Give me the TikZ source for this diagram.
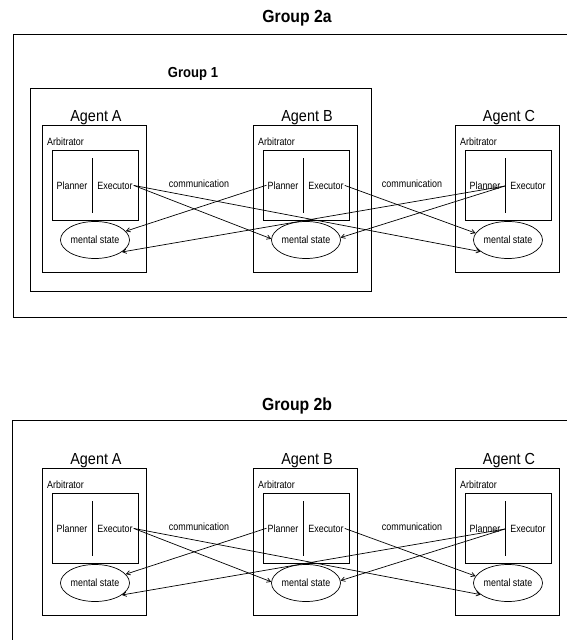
\documentclass[tikz,border=0pt]{standalone}
\usepackage{fontspec}
\setmainfont{Liberation Sans}
\newfontfamily\labelfont[FakeStretch=0.9]{Liberation Sans}
\newfontfamily\smallfont[FakeStretch=0.85]{Liberation Sans}
\usepackage{tikz}
\usetikzlibrary{arrows,shapes.geometric}

\begin{document}
\begin{tikzpicture}[x=1pt,y=-1pt,>=angle 60,%,line cap=round]
    groupbox/.style={draw,line width=1pt},
    agentbox/.style={draw,line width=0.9pt},
    arbbox/.style={draw,line width=0.7pt},
    grouplabel/.style={anchor=base,font=\labelfont\bfseries\fontsize{17.5}{20}\selectfont},
    agentlabel/.style={anchor=base,font=\labelfont\fontsize{16}{18}\selectfont},
    smalltext/.style={anchor=base,inner sep=1pt,font=\smallfont\fontsize{10.5}{12}\selectfont},
    mental/.style={draw,ellipse,line width=0.7pt,minimum width=69pt,minimum height=37pt,inner sep=0pt,font=\smallfont\fontsize{10.5}{12}\selectfont},
    link/.style={->,line width=0.7pt}]

                                \useasboundingbox (0,0) rectangle (567,640);
                                \clip (0,0) rectangle (567,640);

                                \node[grouplabel] (g2a) at (297,22) {Group 2a};
                                \draw[groupbox] (13,34) rectangle (580,317);
                                \node[grouplabel,font=\labelfont\bfseries\fontsize{14.5}{17}\selectfont] (g1) at (193,77) {Group 1};
                                \draw[groupbox] (30,88) rectangle (371,291);
                                \node[grouplabel] (g2b) at (297,410) {Group 2b};
                                \draw[groupbox] (12,420) rectangle (580,660);

                                \foreach \r/\dy in {t/0,b/343}{
                                    \foreach \a/\x in {A/42,B/253,C/455}{
                                        \draw[agentbox] (\x,125+\dy) rectangle (\x+104,272+\dy);
                                        \node[agentlabel] (\r\a-name) at (\x+54,121+\dy) {Agent \a};
                                        \node[smalltext,anchor=base west] (\r\a-arb) at (\x+4,145+\dy) {Arbitrator};
                                        \draw[arbbox] (\x+10,150+\dy) rectangle (\x+96,220+\dy);
                                        \draw (\x+50,158+\dy) -- (\x+50,213+\dy);
                                        \node[smalltext] (\r\a-plan) at (\x+30,189+\dy) {Planner};
                                        \node[smalltext] (\r\a-exec) at (\x+73,189+\dy) {Executor};
                                        \coordinate (\r\a-port) at (\x+50,186+\dy);
                                        \node[mental] (\r\a-mind) at (\x+53,240+\dy) {mental state};
                                    }
                                    \node[smalltext] (\r comm1) at (199,187+\dy) {communication};
                                    \node[smalltext] (\r comm2) at (412,187+\dy) {communication};

                                    \draw[link] (\r A-exec.east) -- (\r B-mind.178);
                                    \draw[link] (\r A-exec.east) -- (\r C-mind.203);
                                    \draw[link] (\r B-plan.west) -- (\r A-mind.16);
                                    \draw[link] (\r B-exec.east) -- (\r C-mind.168);
                                    \draw[link] (\r C-port) -- (\r A-mind.-24);
                                    \draw[link] (\r C-port) -- (\r B-mind.4);
                                }
                            \end{tikzpicture}
\end{document}
